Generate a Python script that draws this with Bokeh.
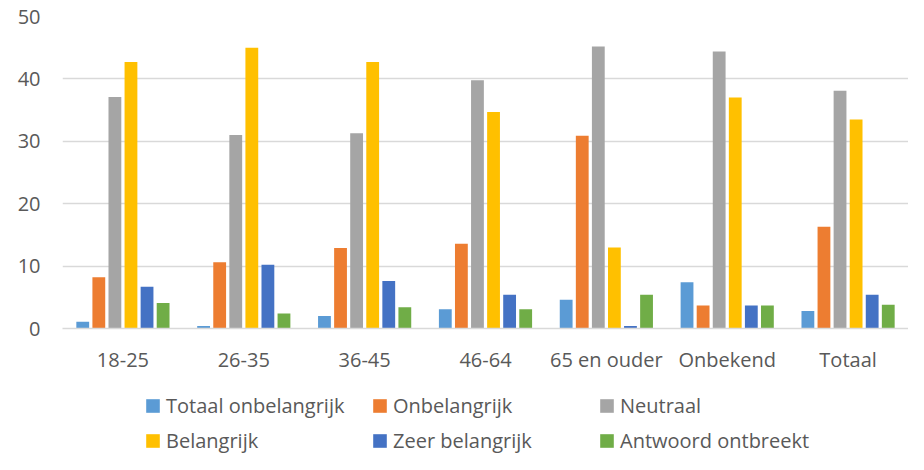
from bokeh.plotting import figure
from bokeh.layouts import column
from bokeh.models import ColumnDataSource, FactorRange, Range1d, Legend, LegendItem, FixedTicker
from bokeh.transform import dodge
from bokeh.embed import file_html
from bokeh.resources import INLINE

categories = ["18-25", "26-35", "36-45", "46-64", "65 en ouder", "Onbekend", "Totaal"]
series_names = ["Totaal onbelangrijk", "Onbelangrijk", "Neutraal",
                "Belangrijk", "Zeer belangrijk", "Antwoord ontbreekt"]
totaal_onbelangrijk = [1.1, 0.4, 2.0, 3.1, 4.6, 7.4, 2.8]
onbelangrijk = [8.2, 10.6, 12.9, 13.6, 30.9, 3.7, 16.3]
neutraal = [37.1, 31.0, 31.3, 39.8, 45.2, 44.4, 38.1]
belangrijk = [42.7, 45.0, 42.7, 34.7, 13.0, 37.0, 33.5]
zeer_belangrijk = [6.7, 10.2, 7.6, 5.4, 0.4, 3.7, 5.4]
antwoord_ontbreekt = [4.1, 2.4, 3.4, 3.1, 5.4, 3.7, 3.8]
y_ticks = [0, 10, 20, 30, 40, 50]

colors = ["#5B9BD5", "#ED7D31", "#A5A5A5", "#FFC000", "#4472C4", "#70AD47"]
keys = ["s0", "s1", "s2", "s3", "s4", "s5"]

source = ColumnDataSource(dict(
    cat=categories,
    s0=totaal_onbelangrijk, s1=onbelangrijk, s2=neutraal,
    s3=belangrijk, s4=zeer_belangrijk, s5=antwoord_ontbreekt,
))

FONT = "Open Sans"
TXT = "#595959"

x_range = FactorRange(*categories, range_padding=0)

p = figure(width=908, height=375, output_backend="svg", toolbar_location=None,
           x_range=x_range, y_range=Range1d(0, 50),
           min_border_left=62, min_border_right=0, min_border_top=16,
           min_border_bottom=46)
p.outline_line_color = None

step = 0.133
bw = 0.106
for i, (k, c) in enumerate(zip(keys, colors)):
    p.vbar(x=dodge("cat", (i - 2.5) * step, range=x_range), top=k, width=bw,
           source=source, fill_color=c, line_color=None)

p.xgrid.grid_line_color = None
p.ygrid.grid_line_color = "#D9D9D9"
p.ygrid.grid_line_width = 1.5
p.yaxis.ticker = FixedTicker(ticks=y_ticks)
p.yaxis.axis_line_color = None
p.yaxis.major_tick_line_color = None
p.yaxis.minor_tick_line_color = None
p.yaxis.major_tick_out = 0
p.yaxis.major_label_standoff = 22
p.yaxis.major_label_text_font = FONT
p.yaxis.major_label_text_font_size = "20px"
p.yaxis.major_label_text_color = TXT

p.xaxis.axis_line_color = "#D9D9D9"
p.xaxis.axis_line_width = 1.5
p.xaxis.major_tick_line_color = None
p.xaxis.major_tick_out = 0
p.xaxis.major_label_standoff = 17
p.xaxis.major_label_text_font = FONT
p.xaxis.major_label_text_font_size = "20px"
p.xaxis.major_label_text_color = TXT

# legend figure (swatches only; its renderers are hidden)
lf = figure(width=908, height=79, output_backend="svg", toolbar_location=None,
            x_range=x_range, y_range=Range1d(0, 50),
            x_axis_type=None, y_axis_type=None,
            min_border_left=0, min_border_right=0, min_border_top=0, min_border_bottom=0)
lf.outline_line_color = None
lf.xgrid.grid_line_color = None
lf.ygrid.grid_line_color = None
lrs = []
for i, (k, c) in enumerate(zip(keys, colors)):
    r = lf.vbar(x=dodge("cat", (i - 2.5) * step, range=x_range), top=k, width=bw,
                source=source, fill_color=c, line_color=None, visible=False)
    lrs.append(r)

order = [0, 3, 1, 4, 2, 5]  # legend fills column by column
items = [LegendItem(label=series_names[j], renderers=[lrs[j]]) for j in order]
legend = Legend(items=items, ncols=3, location=(82, 0), click_policy="none",
                glyph_width=17, glyph_height=17, label_standoff=5,
                label_width=197, label_height=27, spacing=8, padding=0, margin=0,
                border_line_color=None, background_fill_alpha=0,
                label_text_font=FONT, label_text_font_size="20px",
                label_text_color=TXT)
lf.add_layout(legend)

layout = column(p, lf, spacing=0)
open("out.html", "w").write(file_html(layout, INLINE))
